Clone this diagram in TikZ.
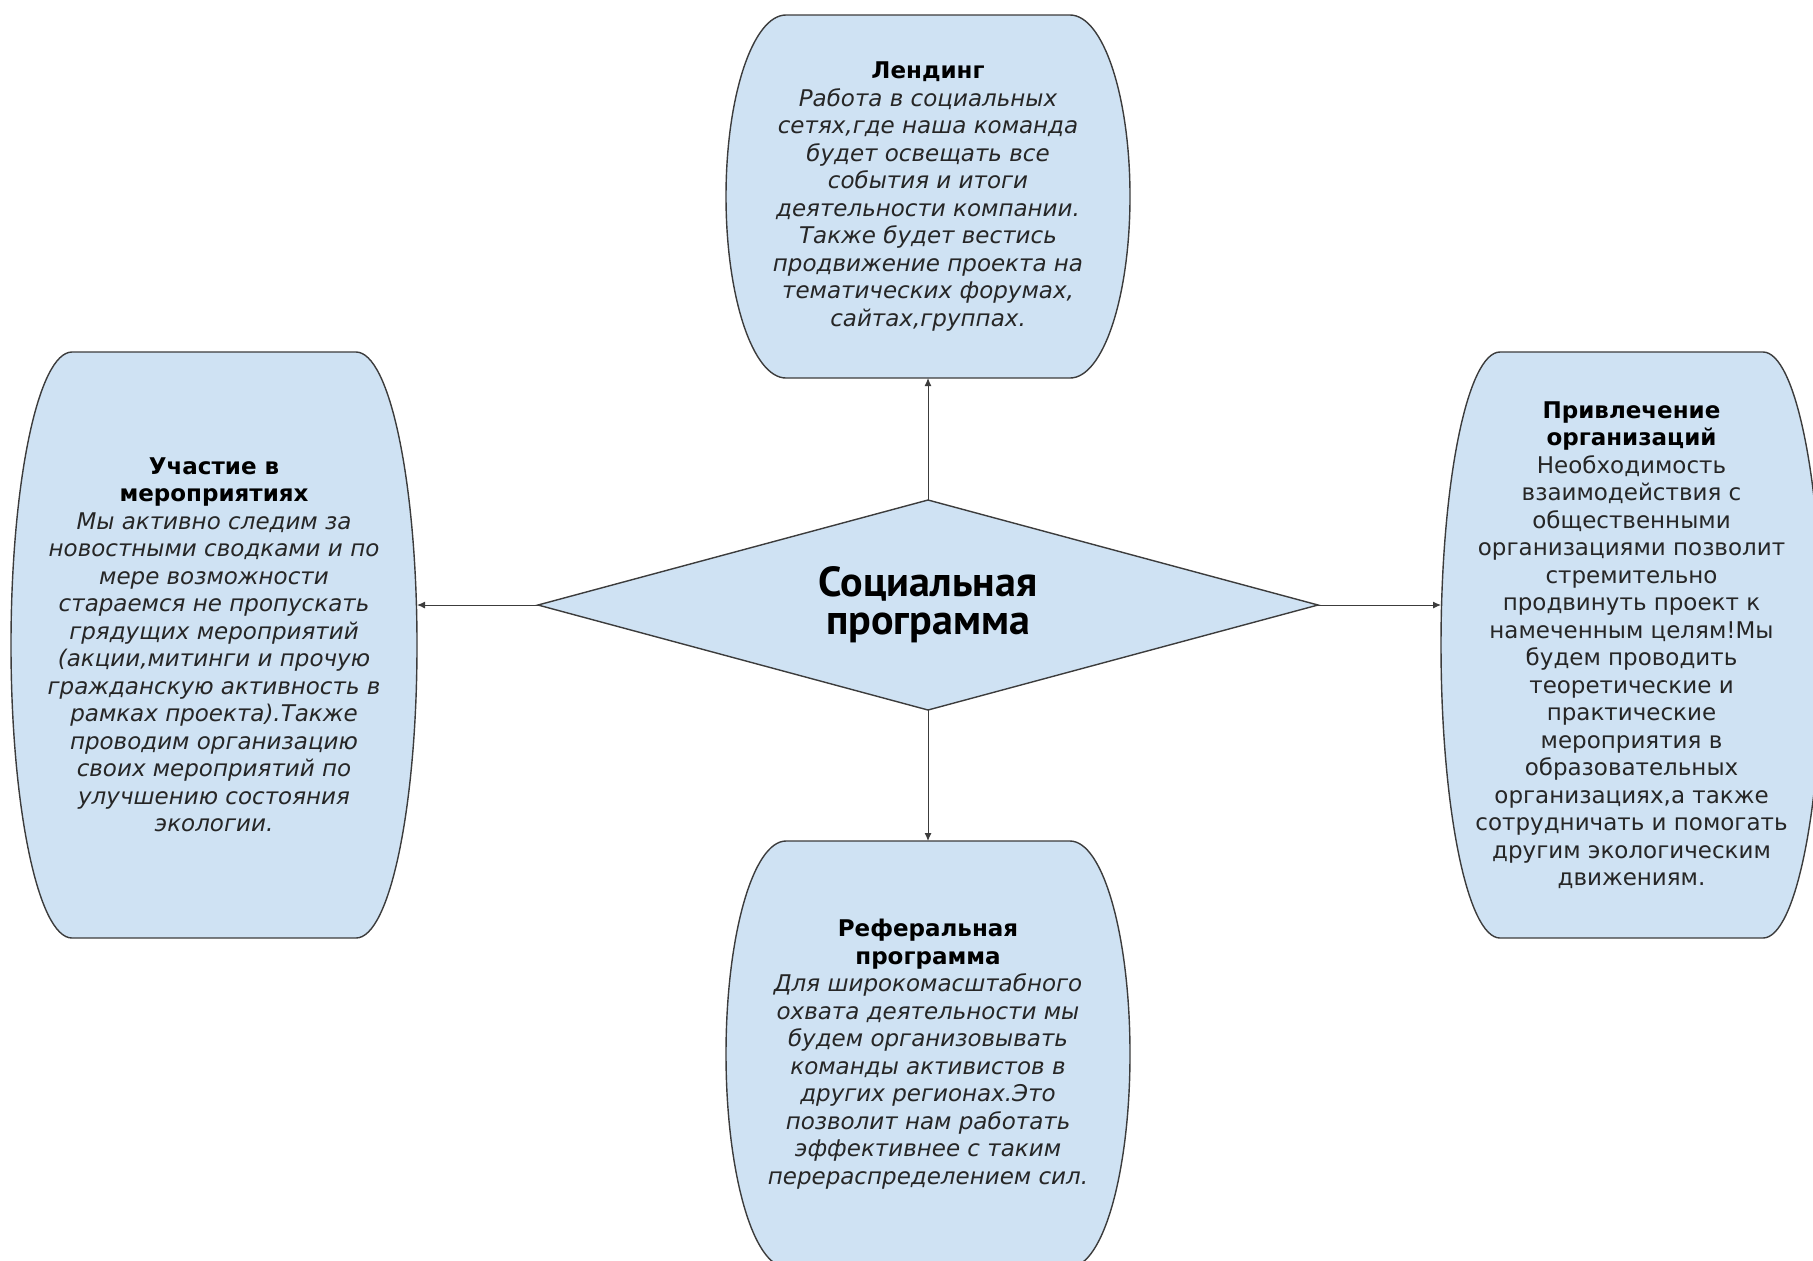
\documentclass[tikz,border=0pt]{standalone}
\usepackage{fontspec}
\setmainfont{DejaVu Sans}
\newfontfamily\ctrfont{PT Sans}
\usetikzlibrary{shapes.geometric,arrows.meta}
\definecolor{boxfill}{HTML}{CFE2F3}
\definecolor{edgecol}{HTML}{3C3C3C}
\begin{document}
\begin{tikzpicture}[x=0.5pt,y=-0.5pt,
  txt/.style={inner sep=0pt,outer sep=0pt,align=center,font=\fontsize{11.5}{13.75}\selectfont,text=black!85},
  itxt/.style={txt,font=\fontsize{11.5}{13.75}\selectfont\itshape},
  conn/.style={draw=edgecol,line width=0.5pt,-{Latex[length=4pt,width=3.5pt]}},
  shapeline/.style={draw=edgecol,line width=0.7pt,fill=boxfill}]
\newcommand\ttl[1]{\textbf{\upshape\color{black}#1}}
\useasboundingbox (0,0) rectangle (1813,1260);
\clip (0,0) rectangle (1813,1260);
% top box
\path[shapeline] (786,15) -- (1070,15) arc[start angle=90,end angle=-90,x radius=30pt,y radius=90.75pt] -- (786,378) arc[start angle=270,end angle=90,x radius=30pt,y radius=90.75pt] -- cycle;
% left box
\path[shapeline] (72,352) -- (356,352) arc[start angle=90,end angle=-90,x radius=30.5pt,y radius=146.5pt] -- (72,938) arc[start angle=270,end angle=90,x radius=30.5pt,y radius=146.5pt] -- cycle;
% right box
\path[shapeline] (1500,352) -- (1763,352) arc[start angle=90,end angle=-90,x radius=29.5pt,y radius=146.5pt] -- (1500,938) arc[start angle=270,end angle=90,x radius=29.5pt,y radius=146.5pt] -- cycle;
% bottom box
\path[shapeline] (786,841) -- (1070,841) arc[start angle=90,end angle=-90,x radius=30pt,y radius=106.5pt] -- (786,1267) arc[start angle=270,end angle=90,x radius=30pt,y radius=106.5pt] -- cycle;

\node[itxt,minimum width=202pt,minimum height=181.5pt] (landing) at (928,196.5) {\ttl{Лендинг}\\ Работа в социальных\\ сетях,где наша команда\\ будет освещать все\\ события и итоги\\ деятельности компании.\\ Также будет вестись\\ продвижение проекта на\\ тематических форумах,\\ сайтах,группах.};

\node[itxt,minimum width=203pt,minimum height=293pt] (events) at (214,645) {\ttl{Участие в}\\ \ttl{мероприятиях}\\ Мы активно следим за\\ новостными сводками и по\\ мере возможности\\ стараемся не пропускать\\ грядущих мероприятий\\ (акции,митинги и прочую\\ гражданскую активность в\\ рамках проекта).Также\\ проводим организацию\\ своих мероприятий по\\ улучшению состояния\\ экологии.};

\node[txt,minimum width=190.5pt,minimum height=293pt] (orgs) at (1631.5,645) {\ttl{Привлечение}\\ \ttl{организаций}\\ Необходимость\\ взаимодействия с\\ общественными\\ организациями позволит\\ стремительно\\ продвинуть проект к\\ намеченным целям!Мы\\ будем проводить\\ теоретические и\\ практические\\ мероприятия в\\ образовательных\\ организациях,а также\\ сотрудничать и помогать\\ другим экологическим\\ движениям.};

\node[itxt,minimum width=202pt,minimum height=213pt] (referral) at (928,1054) {\ttl{Реферальная}\\ \ttl{программа}\\ Для широкомасштабного\\ охвата деятельности мы\\ будем организовывать\\ команды активистов в\\ других регионах.Это\\ позволит нам работать\\ эффективнее с таким\\ перераспределением сил.};

\node[diamond,aspect=3.714,minimum width=390pt,minimum height=105pt,inner sep=0pt,outer sep=0pt,draw=edgecol,line width=0.7pt,fill=boxfill,align=center,font=\ctrfont\bfseries\fontsize{21}{19}\selectfont] (prog) at (928,605) {Социальная\\ программа};

\draw[conn] (prog.north) -- (landing.south);
\draw[conn] (prog.south) -- (referral.north);
\draw[conn] (prog.west) -- (prog.west -| events.east);
\draw[conn] (prog.east) -- (prog.east -| orgs.west);
\end{tikzpicture}
\end{document}
